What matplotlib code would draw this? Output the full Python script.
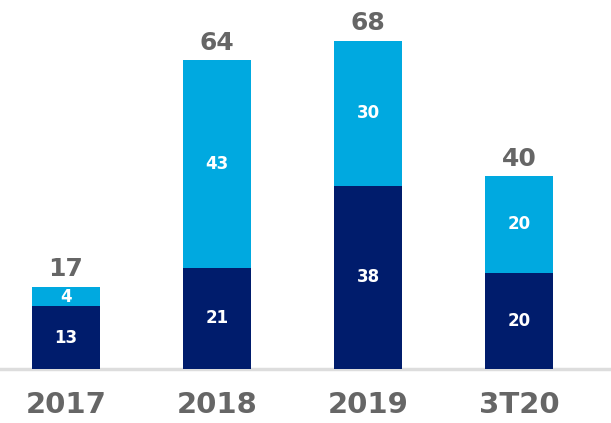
import matplotlib.pyplot as plt

years = ['2017', '2018', '2019', '3T20']
base_vals = [13, 21, 38, 20]
top_vals = [4, 43, 30, 20]
totals = [17, 64, 68, 40]

navy = '#001c6c'
light = '#00a9e0'
grey = '#666666'

fig = plt.figure(figsize=(6.11, 4.23), dpi=100)
ax = fig.add_axes([0, 54 / 423, 1, 369 / 423])

x = list(range(len(years)))
w = 0.45
ax.bar(x, base_vals, w, color=navy, zorder=2)
ax.bar(x, top_vals, w, bottom=base_vals, color=light, zorder=2)

for i in x:
    b, t = base_vals[i], top_vals[i]
    ax.text(i, b / 2, str(b), ha='center', va='center', color='white',
            fontsize=12, fontweight='bold')
    ax.text(i, b + t / 2, str(t), ha='center', va='center', color='white',
            fontsize=12, fontweight='bold')
    ax.annotate(str(totals[i]), (i, b + t), xytext=(0, 4), textcoords='offset points',
                ha='center', va='bottom', color=grey, fontsize=18, fontweight='bold')

ax.axhline(0, color='#dddddd', lw=2.5, zorder=1, clip_on=False)

ax.set_xlim(-66 / 151, 3 + 92 / 151)
ax.set_ylim(0, 76.5)
ax.set_xticks(x)
ax.set_xticklabels(years, fontsize=21, fontweight='bold', color=grey)
ax.tick_params(axis='x', length=0, pad=16)
ax.set_yticks([])
for s in ax.spines.values():
    s.set_visible(False)

fig.savefig('out.png', dpi=100)
